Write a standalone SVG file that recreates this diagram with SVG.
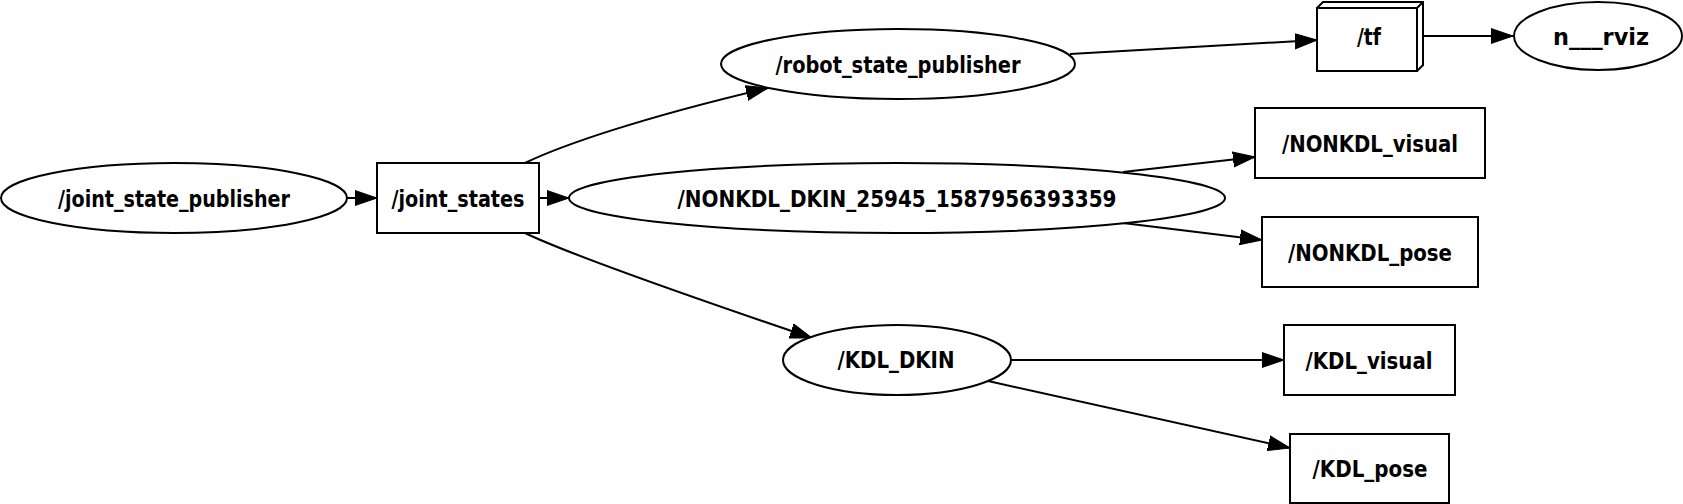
<svg xmlns="http://www.w3.org/2000/svg" width="1683" height="504" viewBox="0 0 1683 504">
<style>
.n{fill:#fff;stroke:#000;stroke-width:2}
.t{font-family:"DejaVu Sans",sans-serif;font-weight:bold;font-size:23.5px;text-anchor:middle;fill:#000}
.e{fill:none;stroke:#000;stroke-width:2;marker-end:url(#a)}
</style>
<defs>
<marker id="a" markerUnits="userSpaceOnUse" markerWidth="24" markerHeight="18" refX="22" refY="8" orient="auto" viewBox="0 0 24 16">
<path d="M0,0.5 L22,8 L0,15.5 Z" fill="#000" stroke="#000" stroke-width="1"/>
</marker>
</defs>
<rect width="1683" height="504" fill="#fff"/>
<g id="edges">
<path class="e" d="M347,198 L377,198"/>
<path class="e" d="M539,198 L569,198"/>
<path class="e" d="M525,163 C560,146 640,118 768,88"/>
<path class="e" d="M525,233 C560,250 650,283 812,338"/>
<path class="e" d="M1070,54 L1317,40"/>
<path class="e" d="M1422,36 L1513,36"/>
<path class="e" d="M1123,172 L1255,157"/>
<path class="e" d="M1123,223 L1262,240"/>
<path class="e" d="M1011,360 L1284,360"/>
<path class="e" d="M988,381 L1290,448"/>
</g>
<g id="joint_state_publisher"><ellipse class="n" cx="174" cy="198" rx="173" ry="35"/><text class="t" x="174" y="206.5" textLength="232" lengthAdjust="spacingAndGlyphs">/joint_state_publisher</text></g>
<g id="joint_states"><rect class="n" x="377" y="163" width="162" height="70"/><text class="t" x="458" y="206.5" textLength="133" lengthAdjust="spacingAndGlyphs">/joint_states</text></g>
<g id="robot_state_publisher"><ellipse class="n" cx="898" cy="64" rx="177" ry="35"/><text class="t" x="898" y="72.5" textLength="245" lengthAdjust="spacingAndGlyphs">/robot_state_publisher</text></g>
<g id="tf"><path class="n" d="M1317,8 L1323,2 L1423,2 L1423,65 L1417,71"/><rect class="n" x="1317" y="8" width="100" height="63"/><path fill="none" stroke="#000" stroke-width="2" d="M1417,8 L1423,2"/><text class="t" x="1369" y="44.5" textLength="24" lengthAdjust="spacingAndGlyphs">/tf</text></g>
<g id="n___rviz"><ellipse class="n" cx="1598" cy="36" rx="84" ry="34"/><text class="t" x="1601" y="44.5" textLength="96" lengthAdjust="spacingAndGlyphs">n___rviz</text></g>
<g id="NONKDL_DKIN"><ellipse class="n" cx="897" cy="198" rx="328" ry="35"/><text class="t" x="897" y="207" textLength="439" lengthAdjust="spacingAndGlyphs">/NONKDL_DKIN_25945_1587956393359</text></g>
<g id="NONKDL_visual"><rect class="n" x="1255" y="108" width="230" height="70"/><text class="t" x="1370" y="151.5" textLength="176" lengthAdjust="spacingAndGlyphs">/NONKDL_visual</text></g>
<g id="NONKDL_pose"><rect class="n" x="1262" y="217" width="216" height="70"/><text class="t" x="1370" y="260.5" textLength="164" lengthAdjust="spacingAndGlyphs">/NONKDL_pose</text></g>
<g id="KDL_DKIN"><ellipse class="n" cx="897" cy="360" rx="114" ry="35"/><text class="t" x="896" y="368" textLength="117" lengthAdjust="spacingAndGlyphs">/KDL_DKIN</text></g>
<g id="KDL_visual"><rect class="n" x="1284" y="325" width="171" height="70"/><text class="t" x="1369" y="368.5" textLength="127" lengthAdjust="spacingAndGlyphs">/KDL_visual</text></g>
<g id="KDL_pose"><rect class="n" x="1290" y="434" width="159" height="69"/><text class="t" x="1370" y="477" textLength="115" lengthAdjust="spacingAndGlyphs">/KDL_pose</text></g>
</svg>
